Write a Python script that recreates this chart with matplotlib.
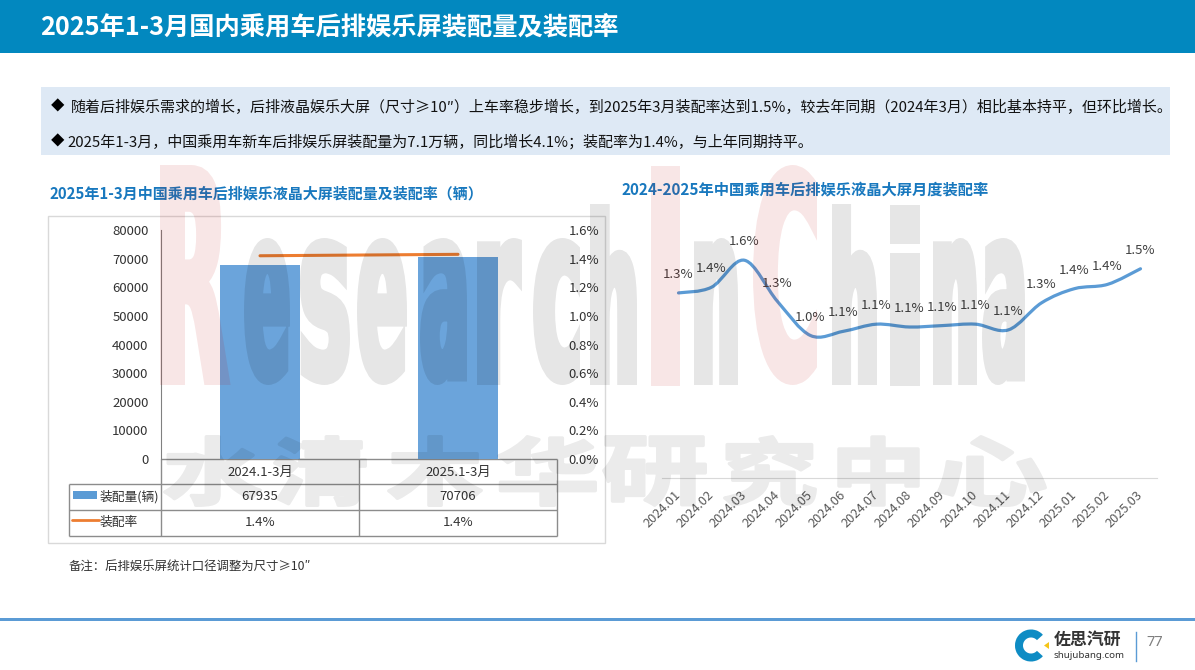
import numpy as np
import matplotlib
matplotlib.use("Agg")
import matplotlib.pyplot as plt
from matplotlib.font_manager import FontProperties
from matplotlib.patches import PathPatch, Polygon, Rectangle, Wedge
from matplotlib.path import Path
from matplotlib.textpath import TextPath
from matplotlib.transforms import Affine2D

plt.rcParams['font.family'] = ['Noto Sans CJK SC', 'DejaVu Sans']

# data
periods = ['2024.1-3月', '2025.1-3月']
volumes = [67935, 70706]
rates = [1.42, 1.43]
rate_labels = ['1.4%', '1.4%']

months = ['2024.01', '2024.02', '2024.03', '2024.04', '2024.05', '2024.06', '2024.07', '2024.08',
          '2024.09', '2024.10', '2024.11', '2024.12', '2025.01', '2025.02', '2025.03']
monthly_rates = [1.34, 1.38, 1.57, 1.28, 1.04, 1.07, 1.12, 1.10, 1.11, 1.12, 1.08, 1.27, 1.37, 1.40, 1.51]

W, H = 1195, 670
BLUE = '#5B9BD5'
TITLE_BLUE = '#1878BE'
GRID = '#8C8C8C'
DARK = '#333333'

fig = plt.figure(figsize=(W / 100, H / 100), dpi=100, facecolor='white')


def px_axes(x0, y0, x1, y1, **kw):
    # 用像素位置建 axes (y 向下)
    return fig.add_axes([x0 / W, 1 - y1 / H, (x1 - x0) / W, (y1 - y0) / H], **kw)


# page layer, in pixel coordinates
page = px_axes(0, 0, W, H, zorder=0)
page.set_xlim(0, W)
page.set_ylim(H, 0)
page.axis('off')

page.add_patch(Rectangle((0, 0), W, 53, color='#0288BF', lw=0))
page.text(40, 27.5, '2025年1-3月国内乘用车后排娱乐屏装配量及装配率', color='white', fontsize=18.2,
          fontweight='bold', va='center')

page.add_patch(Rectangle((41, 87), 1129, 68, color='#DEE9F5', lw=0))
page.text(51, 107, '◆', fontsize=9.7, color='black', va='center')
page.text(71, 107, '随着后排娱乐需求的增长，后排液晶娱乐大屏（尺寸≥10″）上车率稳步增长，到2025年3月装配率达到1.5%，'
          '较去年同期（2024年3月）相比基本持平，但环比增长。', fontsize=10.8, color='#111111', va='center')
page.text(51, 142, '◆', fontsize=9.7, color='black', va='center')
page.text(67, 142, '2025年1-3月，中国乘用车新车后排娱乐屏装配量为7.1万辆，同比增长4.1%；装配率为1.4%，与上年同期持平。',
          fontsize=10.8, color='#111111', va='center')

page.text(50, 193, '2025年1-3月中国乘用车后排娱乐液晶大屏装配量及装配率（辆）', color=TITLE_BLUE, fontsize=10.8,
          fontweight='bold', va='center')
page.text(622, 189, '2024-2025年中国乘用车后排娱乐液晶大屏月度装配率', color=TITLE_BLUE, fontsize=11,
          fontweight='bold', va='center')
page.text(69, 567, '备注：后排娱乐屏统计口径调整为尺寸≥10″', color=DARK, fontsize=8.95, va='center')

# chart frame and data table lines
page.add_patch(Rectangle((48, 216), 557.5, 327, fill=False, ec='#D9D9D9', lw=1))
for y, x0 in [(459, 161), (484, 69), (510, 69), (536, 69)]:
    page.plot([x0, 557], [y, y], color=GRID, lw=1, solid_capstyle='butt')
for x, y0 in [(69, 484), (161, 459), (359, 459), (557, 459)]:
    page.plot([x, x], [y0, 536], color=GRID, lw=1, solid_capstyle='butt')
page.add_patch(Rectangle((73, 491), 24, 8, color=BLUE, lw=0))
page.plot([72, 99], [520, 520], color='#ED7D31', lw=2, solid_capstyle='round')
page.text(100, 497, '装配量(辆)', fontsize=9.2, color=DARK, va='center')
page.text(100, 522, '装配率', fontsize=9.2, color=DARK, va='center')

# footer
page.add_patch(Rectangle((0, 617.5), W, 3, color=BLUE, lw=0))
page.add_patch(Wedge((1031, 645.5), 16, 42, 318, width=8, color='#0E8CC4', lw=0))
page.add_patch(Polygon([(1049, 642), (1049, 649), (1044, 645.5)], color='#F5C518', lw=0))
page.text(1054, 640, '佐思汽研', fontsize=12.2, fontweight='bold', color=DARK, va='center')
page.text(1054, 655, 'shujubang.com', fontsize=7, fontweight='bold', color=DARK, va='center',
          family='Noto Sans')
page.plot([1136.5, 1136.5], [632, 661], color=BLUE, lw=1)
page.text(1146, 643, '77', fontsize=10.5, color='#7F7F7F', va='center', family='Noto Sans')

# left chart: bars + rate line
ax = px_axes(161, 230, 557, 459, zorder=1)
ax.patch.set_alpha(0)
x = np.arange(len(periods))
ax.bar(x, volumes, width=0.4, color='#6BA4DB')
ax.set_xlim(-0.5, 1.5)
ax.set_ylim(0, 80000)
ax.set_yticks(np.arange(0, 80001, 10000))
ax.set_xticks(x, periods)
ax.tick_params(axis='both', length=0, labelsize=9.5, labelcolor=DARK)
ax.tick_params(axis='y', pad=9)
ax.tick_params(axis='x', pad=5)
for s in ['top', 'right', 'bottom']:
    ax.spines[s].set_visible(False)
ax.spines['left'].set_color('#808080')

ax2 = ax.twinx()
ax2.patch.set_alpha(0)
ax2.plot(x, rates, color='#ED7D31', lw=2.2, solid_capstyle='round')
ax2.set_ylim(0, 1.6)
ax2.set_yticks(np.arange(0, 1.61, 0.2), [f'{v:.1f}%' for v in np.arange(0, 1.61, 0.2)])
ax2.tick_params(axis='y', length=0, labelsize=9.5, labelcolor=DARK, pad=8.4)
for s in ax2.spines.values():
    s.set_visible(False)

# table body sits under the category labels
tr = ax.get_xaxis_transform()
for i in x:
    ax.text(i, (459 - 497) / 229, str(volumes[i]), transform=tr, ha='center', va='center', fontsize=9.5, color=DARK)
    ax.text(i, (459 - 522) / 229, rate_labels[i], transform=tr, ha='center', va='center', fontsize=9.5, color=DARK)

# right chart: smoothed monthly rate
ax3 = px_axes(662, 229, 1157, 478, zorder=1)
ax3.patch.set_alpha(0)
mx = np.arange(len(months))
ax3.set_xlim(-0.5, 14.5)
ax3.set_ylim(0.037, 1.79)

# Excel 的平滑線: 用 Catmull-Rom 算 Bezier 控制點
pts = np.column_stack([mx, monthly_rates])
verts = [pts[0]]
codes = [Path.MOVETO]
for i in range(len(pts) - 1):
    prev_pt = pts[max(i - 1, 0)]
    next_pt = pts[min(i + 2, len(pts) - 1)]
    verts += [pts[i] + (pts[i + 1] - prev_pt) / 6, pts[i + 1] - (next_pt - pts[i]) / 6, pts[i + 1]]
    codes += [Path.CURVE4] * 3
ax3.add_patch(PathPatch(Path(verts, codes), fill=False, ec=BLUE, lw=2.3, capstyle='round'))

for i, v in zip(mx, monthly_rates):
    ax3.annotate(f'{v:.1f}%', (i, v), xytext=(0, 13.2), textcoords='offset points', ha='center', va='center',
                 fontsize=9.5, color='#404040')

ax3.set_yticks([])
ax3.set_xticks(mx, months, rotation=45, ha='right', va='center', rotation_mode='anchor')
ax3.tick_params(axis='x', length=0, labelsize=9.2, labelcolor='#595959', pad=11)
for s in ['top', 'right', 'left']:
    ax3.spines[s].set_visible(False)
ax3.spines['bottom'].set_color('#D9D9D9')

# watermark on top of everything, each glyph stretched into its own box
mark = px_axes(0, 0, W, H, zorder=5)
mark.set_xlim(0, W)
mark.set_ylim(H, 0)
mark.axis('off')
mark.patch.set_alpha(0)


def fade(alpha):
    # 整個字形一起變淡, 外框和填色重疊處才不會變深
    def _filter(img, dpi):
        img = img.copy()
        img[..., 3] *= alpha
        return img, 0, 0
    return _filter


def stretch_glyph(ch, x0, x1, y0, y1, prop, color, alpha, grow, join):
    # grow: 外框加粗的像素數, 壓扁後筆畫太細
    x0, x1, y0, y1 = x0 + grow / 2, x1 - grow / 2, y0 + grow / 2, y1 - grow / 2
    tp = TextPath((0, 0), ch, size=100, prop=prop)
    bb = tp.get_extents()
    tf = Affine2D().translate(-bb.x0, -bb.y1).scale((x1 - x0) / bb.width, -(y1 - y0) / bb.height).translate(x0, y0)
    p = PathPatch(tp.transformed(tf), fc=color, ec=color, lw=grow * 0.72, joinstyle=join)
    p.set_agg_filter(fade(alpha))
    mark.add_patch(p)


latin = FontProperties(family='DejaVu Sans', weight='bold')
cjk = FontProperties(family='Noto Sans CJK SC', weight='bold')
GREY, RED = '#000000', '#C00000'
for ch, x0, x1, y0, color in [('R', 160, 230, 165, RED), ('e', 244, 290, 238, GREY), ('s', 300, 350, 238, GREY),
                              ('e', 357, 407, 238, GREY), ('a', 420, 467, 238, GREY), ('r', 477, 522, 238, GREY),
                              ('c', 533, 580, 238, GREY), ('h', 590, 637, 204, GREY), ('I', 651, 680, 165, RED),
                              ('n', 694, 738, 238, GREY), ('C', 753, 817, 165, RED), ('h', 832, 877, 204, GREY),
                              ('i', 890, 920, 204, GREY), ('n', 933, 977, 238, GREY), ('a', 982, 1025, 238, GREY)]:
    stretch_glyph(ch, x0, x1, y0, 385, latin, color, 0.10, 7, 'miter')
for ch, x0, x1 in [('水', 163, 262), ('清', 273, 367), ('木', 387, 483), ('华', 497, 597),
                   ('研', 602, 707), ('究', 723, 817), ('中', 837, 920), ('心', 937, 1047)]:
    stretch_glyph(ch, x0, x1, 435, 507, cjk, GREY, 0.08, 3.5, 'round')

fig.savefig('out.png', dpi=100)
